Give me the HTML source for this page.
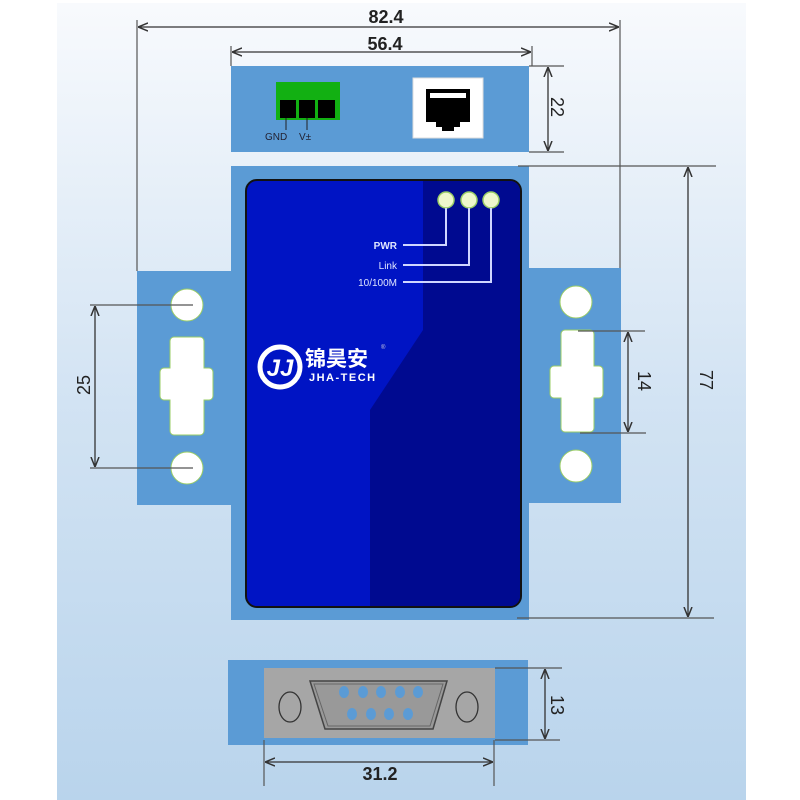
<!DOCTYPE html>
<html><head><meta charset="utf-8"><style>
html,body{margin:0;padding:0;background:#fff;}
svg{display:block;}
text{font-family:"Liberation Sans","Noto Sans CJK SC",sans-serif;}
</style></head><body>
<svg width="800" height="800" viewBox="0 0 800 800" xmlns="http://www.w3.org/2000/svg">
<defs>
<linearGradient id="bg" x1="0" y1="0" x2="0" y2="1">
<stop offset="0" stop-color="#f8fafd"/><stop offset="0.5" stop-color="#d2e3f3"/><stop offset="1" stop-color="#b9d4ec"/>
</linearGradient>
<marker id="ar" viewBox="0 0 10 10" refX="10" refY="5" markerWidth="10" markerHeight="10" orient="auto-start-reverse" markerUnits="userSpaceOnUse">
<path d="M0,1 L10,5 L0,9" fill="none" stroke="#333" stroke-width="1.5"/>
</marker>
</defs>
<rect x="57" y="3" width="689" height="797" fill="url(#bg)"/>

<!-- ears -->
<rect x="137" y="271" width="94" height="234" fill="#5b9bd5"/>
<rect x="529" y="268" width="92" height="235" fill="#5b9bd5"/>
<g fill="#fff" stroke="#9c6" stroke-width="1">
<circle cx="187" cy="305" r="16"/><circle cx="187" cy="468" r="16"/>
<path d="M174,337 h26 a4,4 0 0 1 4,4 v27 h5 a4,4 0 0 1 4,4 v24 a4,4 0 0 1 -4,4 h-5 v31 a4,4 0 0 1 -4,4 h-26 a4,4 0 0 1 -4,-4 v-31 h-6 a4,4 0 0 1 -4,-4 v-24 a4,4 0 0 1 4,-4 h6 v-27 a4,4 0 0 1 4,-4z"/>
<circle cx="576" cy="302" r="16"/><circle cx="576" cy="466" r="16"/>
<path d="M565,330 h25 a4,4 0 0 1 4,4 v32 h5 a4,4 0 0 1 4,4 v24 a4,4 0 0 1 -4,4 h-5 v30 a4,4 0 0 1 -4,4 h-25 a4,4 0 0 1 -4,-4 v-30 h-7 a4,4 0 0 1 -4,-4 v-24 a4,4 0 0 1 4,-4 h7 v-32 a4,4 0 0 1 4,-4z"/>
</g>

<!-- top panel -->
<rect x="231" y="66" width="298" height="86" fill="#5b9bd5"/>
<rect x="276" y="82" width="64" height="38" fill="#12b012"/>
<rect x="280" y="100" width="16" height="18" fill="#000"/>
<rect x="299" y="100" width="16" height="18" fill="#000"/>
<rect x="318" y="100" width="17" height="18" fill="#000"/>
<line x1="286" y1="118" x2="286" y2="130" stroke="#222"/>
<line x1="307" y1="118" x2="307" y2="130" stroke="#222"/>
<text x="265" y="140" font-size="10" fill="#223">GND</text>
<text x="299" y="140" font-size="10" fill="#223">V±</text>
<rect x="413" y="78" width="70" height="60" fill="#fff" stroke="#ddd"/>
<path d="M426,89 h44 v33 h-10 v5 h-6 v4 h-12 v-4 h-6 v-5 h-10z" fill="#000"/>
<rect x="430" y="93" width="36" height="5" fill="#fff"/>

<!-- main body -->
<rect x="231" y="166" width="298" height="454" fill="#5b9bd5"/>
<rect x="246" y="180" width="275" height="427" rx="11" fill="#0014c4" stroke="#111" stroke-width="2"/>
<path d="M423,181 H510 a10,10 0 0 1 10,10 V596 a10,10 0 0 1 -10,10 H370 V410 L423,330z" fill="#000a90"/>
<g fill="#eef7cc" stroke="#9c6" stroke-width="1.5">
<circle cx="446" cy="200" r="8"/><circle cx="469" cy="200" r="8"/><circle cx="491" cy="200" r="8"/>
</g>
<g fill="none" stroke="#cfd6ff" stroke-width="2">
<path d="M446,208 V245 H403"/><path d="M469,208 V265 H403"/><path d="M491,208 V282 H403"/>
</g>
<g fill="#e0e6ff" font-size="10" text-anchor="end">
<text x="397" y="249" font-weight="bold">PWR</text>
<text x="397" y="269">Link</text>
<text x="397" y="286">10/100M</text>
</g>
<circle cx="280" cy="367" r="20" fill="none" stroke="#fff" stroke-width="5"/>
<text x="280" y="376" font-size="24" font-weight="bold" fill="#fff" text-anchor="middle" font-style="italic">JJ</text>
<text x="305" y="366" font-size="21" font-weight="bold" fill="#fff">锦昊安</text>
<text x="309" y="381" font-size="11" font-weight="bold" fill="#fff" letter-spacing="1.5">JHA-TECH</text>
<text x="381" y="349" font-size="6" fill="#ccd">®</text>

<!-- bottom connector -->
<rect x="228" y="660" width="300" height="85" fill="#5b9bd5"/>
<rect x="264" y="668" width="231" height="70" fill="#a6a6a6"/>
<path d="M310,681 H447 L433,729 H325z" fill="#999" stroke="#444" stroke-width="1.5"/>
<path d="M314,684 H443 L430,726 H328z" fill="none" stroke="#666" stroke-width="1"/>
<ellipse cx="290" cy="707" rx="11" ry="15" fill="none" stroke="#333" stroke-width="1.3"/>
<ellipse cx="467" cy="707" rx="11" ry="15" fill="none" stroke="#333" stroke-width="1.3"/>
<g fill="#5b9bd5">
<ellipse cx="344" cy="692" rx="5" ry="6"/><ellipse cx="363" cy="692" rx="5" ry="6"/><ellipse cx="381" cy="692" rx="5" ry="6"/><ellipse cx="400" cy="692" rx="5" ry="6"/><ellipse cx="418" cy="692" rx="5" ry="6"/>
<ellipse cx="352" cy="714" rx="5" ry="6"/><ellipse cx="371" cy="714" rx="5" ry="6"/><ellipse cx="389" cy="714" rx="5" ry="6"/><ellipse cx="408" cy="714" rx="5" ry="6"/>
</g>

<!-- dimension lines -->
<g stroke="#555" stroke-width="1.2" fill="none">
<line x1="137" y1="20" x2="137" y2="271"/><line x1="620" y1="20" x2="620" y2="268"/>
<line x1="231" y1="46" x2="231" y2="66"/><line x1="532" y1="46" x2="532" y2="66"/>
<line x1="529" y1="66" x2="564" y2="66"/><line x1="529" y1="152" x2="564" y2="152"/>
<line x1="518" y1="166" x2="716" y2="166"/><line x1="517" y1="618" x2="714" y2="618"/>
<line x1="90" y1="305" x2="193" y2="305"/><line x1="90" y1="468" x2="193" y2="468"/>
<line x1="578" y1="331" x2="645" y2="331"/><line x1="580" y1="433" x2="646" y2="433"/>
<line x1="495" y1="668" x2="562" y2="668"/><line x1="495" y1="740" x2="560" y2="740"/>
<line x1="264" y1="740" x2="264" y2="786"/><line x1="494" y1="740" x2="494" y2="786"/>
</g>
<g stroke="#333" stroke-width="1.3" fill="none" marker-start="url(#ar)" marker-end="url(#ar)">
<line x1="138" y1="27" x2="619" y2="27"/>
<line x1="232" y1="52" x2="531" y2="52"/>
<line x1="548" y1="67" x2="548" y2="151"/>
<line x1="688" y1="167" x2="688" y2="617"/>
<line x1="95" y1="306" x2="95" y2="467"/>
<line x1="628" y1="332" x2="628" y2="432"/>
<line x1="545" y1="669" x2="545" y2="739"/>
<line x1="265" y1="762" x2="493" y2="762"/>
</g>
<g fill="#222" font-size="18">
<text x="386" y="23" text-anchor="middle" font-weight="bold">82.4</text>
<text x="385" y="50" text-anchor="middle" font-weight="bold">56.4</text>
<text x="380" y="780" text-anchor="middle" font-weight="bold">31.2</text>
<text transform="translate(551,107) rotate(90)" text-anchor="middle">22</text>
<text transform="translate(700,380) rotate(90)" text-anchor="middle">77</text>
<text transform="translate(638,381) rotate(90)" text-anchor="middle">14</text>
<text transform="translate(551,705) rotate(90)" text-anchor="middle">13</text>
<text transform="translate(90,385) rotate(-90)" text-anchor="middle">25</text>
</g>
</svg>
</body></html>
